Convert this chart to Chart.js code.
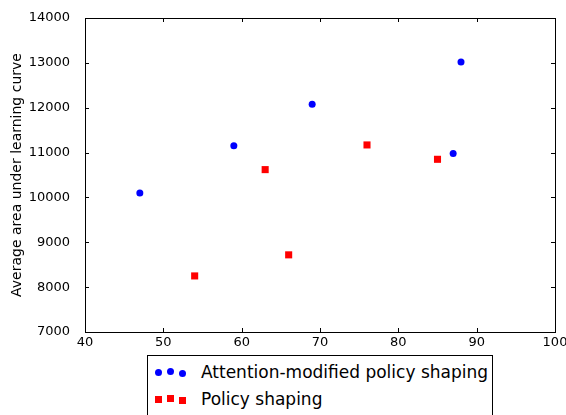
<!DOCTYPE html>
<html>
<head>
<meta charset="utf-8">
<script src="https://cdn.jsdelivr.net/npm/chart.js@4"></script>
<style>
  html, body { margin: 0; padding: 0; background: #fff; }
  #wrap { position: relative; width: 566px; height: 415px; overflow: hidden; }
  #legend {
    position: absolute; left: 147px; top: 355px; width: 346px; height: 80px;
    border: 1px solid #000; background: #fff; box-sizing: border-box;
    font-family: "DejaVu Sans", sans-serif; font-size: 17px; color: #000;
  }
  .row { position: absolute; left: 0; height: 20px; }
  .lbl { position: absolute; left: 53px; top: -2px; white-space: nowrap; line-height: 20px; }
  .mk { position: absolute; }
  .dot { width: 7px; height: 7px; border-radius: 50%; background: #0000ff; }
  .sq { width: 7px; height: 7px; background: #ff0000; }
</style>
</head>
<body>
<div id="wrap">
  <canvas id="chart" width="566" height="415"></canvas>
  <div id="legend"></div>
</div>
<script>
const ctx = 'chart';

// data
let attnX = [47, 59, 69, 87, 88];
let attnY = [10100, 11150, 12080, 10980, 13020];
let psX = [54, 63, 66, 76, 85];
let psY = [8250, 10620, 8720, 11170, 10850];

let seriesNames = ['Attention-modified policy shaping', 'Policy shaping'];
let xTicks = [40, 50, 60, 70, 80, 90, 100];
let yTicks = [7000, 8000, 9000, 10000, 11000, 12000, 13000, 14000];

const toPoints = (xs, ys) => xs.map((x, i) => ({ x: x, y: ys[i] }));

// matplotlib-ish frame with inward ticks on all four sides
const framePlugin = {
    id: 'frame',
    afterDraw(chart) {
        const c = chart.ctx;
        const a = chart.chartArea;
        const xs = chart.scales.x, ys = chart.scales.y;
        c.save();
        c.strokeStyle = '#000';
        c.lineWidth = 1;
        c.strokeRect(a.left + 0.5, a.top + 0.5, a.right - a.left, a.bottom - a.top);
        c.beginPath();
        xTicks.forEach(t => {
            const px = Math.round(xs.getPixelForValue(t)) + 0.5;
            c.moveTo(px, a.bottom); c.lineTo(px, a.bottom - 4);
            c.moveTo(px, a.top); c.lineTo(px, a.top + 4);
        });
        yTicks.forEach(t => {
            const py = Math.round(ys.getPixelForValue(t)) + 0.5;
            c.moveTo(a.left, py); c.lineTo(a.left + 4, py);
            c.moveTo(a.right, py); c.lineTo(a.right - 4, py);
        });
        c.stroke();
        c.restore();
    }
};

let chart = new Chart(ctx, {
    type: 'scatter',
    data: {
        datasets: [{
            label: seriesNames[0],
            data: toPoints(attnX, attnY),
            backgroundColor: '#0000ff',
            borderColor: '#0000ff',
            pointStyle: 'circle',
            pointRadius: 3.5,
            borderWidth: 0
        },
        {
            label: seriesNames[1],
            data: toPoints(psX, psY),
            backgroundColor: '#ff0000',
            borderColor: '#ff0000',
            pointStyle: 'rect',
            pointRadius: 5,
            borderWidth: 0
        }]
    },
    options: {
        responsive: false,
        animation: false,
        layout: { padding: { top: 18, right: 11, left: 0, bottom: 0 } },
        plugins: {
            legend: { display: false },
            tooltip: { enabled: false }
        },
        scales: {
            x: {
                type: 'linear',
                min: 40, max: 100,
                afterBuildTicks: s => { s.ticks = xTicks.map(v => ({ value: v })); },
                afterFit: s => { s.height = 83; },
                grid: { display: false },
                border: { display: false },
                ticks: {
                    color: '#000', padding: -5,
                    callback: v => String(v),
                    font: { family: 'DejaVu Sans', size: 13 }
                }
            },
            y: {
                min: 7000, max: 14000,
                afterBuildTicks: s => { s.ticks = yTicks.map(v => ({ value: v })); },
                afterFit: s => { s.width = 85; },
                grid: { display: false },
                border: { display: false },
                title: {
                    display: true,
                    text: 'Average area under learning curve',
                    color: '#000',
                    font: { family: 'DejaVu Sans', size: 14 },
                    padding: { top: 9, bottom: 4 }
                },
                ticks: {
                    color: '#000', padding: 7,
                    callback: v => String(v),
                    font: { family: 'DejaVu Sans', size: 13 }
                }
            }
        }
    },
    plugins: [framePlugin]
});

// legend below the plot, three markers per entry like matplotlib
const legend = document.getElementById('legend');
const rows = [
    { name: seriesNames[0], cls: 'dot', top: 8, offs: [0, -1, 1] },
    { name: seriesNames[1], cls: 'sq', top: 35, offs: [0, -1, 1] }
];
rows.forEach(r => {
    const row = document.createElement('div');
    row.className = 'row';
    row.style.top = r.top + 'px';
    [7, 19, 31].forEach((x, i) => {
        const m = document.createElement('div');
        m.className = 'mk ' + r.cls;
        m.style.left = x + 'px';
        m.style.top = (5 + r.offs[i]) + 'px';
        row.appendChild(m);
    });
    const t = document.createElement('div');
    t.className = 'lbl';
    t.textContent = r.name;
    row.appendChild(t);
    legend.appendChild(row);
});
</script>
</body>
</html>
